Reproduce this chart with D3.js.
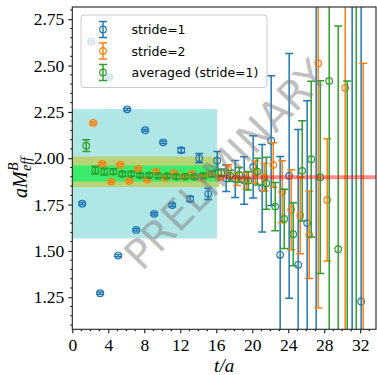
<!DOCTYPE html>
<html><head><meta charset="utf-8">
<script src="https://cdn.jsdelivr.net/npm/d3@7"></script>
<style>body{margin:0;background:#fff}svg{display:block}</style>
</head><body><svg id="c" width="377" height="375"></svg>
<script>
// ---- data ----
const blueT   = [1,2,3,4,5,6,7,8,9,10,11,12,13,14,15,16,17,18,19,20,21,22,23,24,25,26,27,31,32];
const blueV   = [1.755,2.63,1.272,2.437,1.475,2.264,1.613,2.151,1.700,2.086,1.747,2.043,1.780,2.000,1.808,1.987,1.892,1.888,1.880,1.953,1.838,2.095,1.479,1.905,1.425,1.650,0.9,3.0,1.227];
const blueE   = [0.006,0.006,0.006,0.006,0.006,0.006,0.006,0.006,0.006,0.007,0.008,0.012,0.013,0.025,0.03,0.05,0.072,0.10,0.128,0.168,0.236,0.35,0.53,0.66,0.73,0.66,2.0,2.2,1.7];

const orangeT = [2,3,4,5,6,7,8,9,10,11,12,13,14,15,16,17,18,19,20,21,22,23,24,25,26,27,28,30,32];
const orangeV = [2.19,1.969,1.874,1.964,1.878,1.942,1.885,1.928,1.894,1.919,1.901,1.914,1.895,1.913,1.897,1.940,1.888,1.878,1.925,1.898,1.964,1.819,1.722,1.692,1.587,2.512,1.775,2.38,0.95];
const orangeE = [0.006,0.006,0.006,0.006,0.006,0.006,0.006,0.006,0.006,0.006,0.006,0.01,0.01,0.01,0.012,0.025,0.035,0.045,0.06,0.075,0.12,0.167,0.216,0.207,0.236,1.32,0.33,1.4,1.563];

const greenT  = [1,2,3,4,5,6,7,8,9,10,11,12,13,14,15,16,17,18,19,20,21,22,23,24,25,26,27,28,29,30,31];
const greenV  = [2.068,1.935,1.928,1.928,1.915,1.915,1.908,1.908,1.905,1.905,1.901,1.901,1.900,1.905,1.915,1.922,1.905,1.910,1.878,1.928,1.865,1.739,1.673,1.590,1.932,1.995,1.898,2.417,1.509,1.0,3.0];
const greenE  = [0.032,0.02,0.018,0.015,0.012,0.012,0.01,0.01,0.01,0.01,0.01,0.01,0.01,0.012,0.015,0.02,0.03,0.04,0.05,0.072,0.14,0.13,0.16,0.17,0.27,0.42,0.52,1.5,1.205,1.417,2.2];

const seriesNames = ["stride=1","stride=2","averaged (stride=1)"];
const seriesColors = ["#1f77b4","#ff7f0e","#2ca02c"];
const seriesShift = [0.1,0.33,0.55];

const fitBox   = {t0:0, t1:16.1, lo:1.567, hi:2.265};
const bandOuter = {t0:0, t1:16.3, lo:1.845, hi:2.009};
const bandInner = {t0:0, t1:16.3, lo:1.874, hi:1.961};
const refLine  = {t0:16.1, t1:33.75, v:1.898};

const xTicks = [0,4,8,12,16,20,24,28,32];
const yTicks = [1.25,1.50,1.75,2.00,2.25,2.50,2.75];

// ---- layout ----
const svg = d3.select("#c");
const L=72.3, R=376, T=7, B=329.3;
const x = d3.scaleLinear().domain([0,33.75]).range([L,R]);
const y = d3.scaleLinear().domain([1.077,2.816]).range([B,T]);

svg.append("defs").append("clipPath").attr("id","clip")
  .append("rect").attr("x",L).attr("y",T).attr("width",R-L).attr("height",B-T);
const plot = svg.append("g").attr("clip-path","url(#clip)");

plot.append("rect").attr("x",x(fitBox.t0)).attr("width",x(fitBox.t1)-x(fitBox.t0))
  .attr("y",y(fitBox.hi)).attr("height",y(fitBox.lo)-y(fitBox.hi)).attr("fill","#b0e6e6");
plot.append("rect").attr("x",x(bandOuter.t0)).attr("width",x(bandOuter.t1)-x(bandOuter.t0))
  .attr("y",y(bandOuter.hi)).attr("height",y(bandOuter.lo)-y(bandOuter.hi)).attr("fill","#b8d476");
plot.append("rect").attr("x",x(bandInner.t0)).attr("width",x(bandInner.t1)-x(bandInner.t0))
  .attr("y",y(bandInner.hi)).attr("height",y(bandInner.lo)-y(bandInner.hi)).attr("fill","#3ceb6c");

const allT=[blueT,orangeT,greenT], allV=[blueV,orangeV,greenV], allE=[blueE,orangeE,greenE];
const cap=4, rad=3.3;
allT.forEach((ts,si)=>{
  const col=seriesColors[si];
  const data=ts.map((t,i)=>({t:t+seriesShift[si], v:allV[si][i], e:allE[si][i]}));
  const g=plot.append("g");
  g.selectAll("line.bar").data(data).join("line").attr("class","bar")
    .attr("x1",d=>x(d.t)).attr("x2",d=>x(d.t))
    .attr("y1",d=>y(d.v-d.e)).attr("y2",d=>y(d.v+d.e))
    .attr("stroke",col).attr("stroke-width",1.5);
  ["lo","hi"].forEach(k=>{
    g.selectAll("line.c"+k).data(data).join("line").attr("class","c"+k)
      .attr("x1",d=>x(d.t)-cap).attr("x2",d=>x(d.t)+cap)
      .attr("y1",d=>y(k==="lo"?d.v-d.e:d.v+d.e)).attr("y2",d=>y(k==="lo"?d.v-d.e:d.v+d.e))
      .attr("stroke",col).attr("stroke-width",1.5);
  });
  g.selectAll("circle").data(data).join("circle")
    .attr("cx",d=>x(d.t)).attr("cy",d=>y(d.v)).attr("r",rad)
    .attr("fill","none").attr("stroke",col).attr("stroke-width",1.2);
});

plot.append("line").attr("x1",x(refLine.t0)).attr("x2",x(refLine.t1))
  .attr("y1",y(refLine.v)).attr("y2",y(refLine.v))
  .attr("stroke","#ff0000").attr("stroke-opacity",0.45).attr("stroke-width",4);

// watermark
svg.append("text").attr("transform",`translate(226,165) rotate(-46)`)
  .attr("text-anchor","middle").attr("dominant-baseline","central")
  .attr("font-family","DejaVu Sans").attr("font-size",41)
  .attr("fill","#808080").attr("fill-opacity",0.5).text("PRELIMINARY");

// axes
const serif="Liberation Serif";
const ax = svg.append("g").attr("transform",`translate(0,${B})`)
  .call(d3.axisBottom(x).tickValues(xTicks).tickFormat(d3.format("d")).tickSize(4).tickPadding(5));
const ay = svg.append("g").attr("transform",`translate(${L},0)`)
  .call(d3.axisLeft(y).tickValues(yTicks).tickFormat(d3.format(".2f")).tickSize(4).tickPadding(4));
[ax,ay].forEach(a=>{
  a.select(".domain").remove();
  a.selectAll("text").attr("font-family",serif).attr("font-size",17.5).attr("fill","#000");
  a.selectAll("line").attr("stroke","#000").attr("stroke-width",1);
});
const xMinor=d3.range(0,34,1).filter(v=>v%4!==0);
svg.append("g").selectAll("line").data(xMinor).join("line")
  .attr("x1",d=>x(d)).attr("x2",d=>x(d)).attr("y1",B).attr("y2",B+2).attr("stroke","#000");
const yMinor=d3.range(22,57).map(k=>k*0.05).filter(v=>Math.abs(v*4-Math.round(v*4))>1e-6);
svg.append("g").selectAll("line").data(yMinor).join("line")
  .attr("x1",L-2).attr("x2",L).attr("y1",d=>y(d)).attr("y2",d=>y(d)).attr("stroke","#000");
svg.append("rect").attr("x",L).attr("y",T).attr("width",R-L).attr("height",B-T)
  .attr("fill","none").attr("stroke","#222").attr("stroke-width",1.1);

// axis labels
svg.append("text").attr("x",(L+R)/2).attr("y",372).attr("text-anchor","middle")
  .attr("font-family",serif).attr("font-style","italic").attr("font-size",19).text("t/a");
const yl = svg.append("g").attr("transform","translate(27,172) rotate(-90)")
  .attr("font-family",serif).attr("font-style","italic");
yl.append("text").attr("x",-26).attr("y",0).attr("font-size",20).text("aM");
yl.append("text").attr("x",1).attr("y",-9).attr("font-size",14).text("B");
yl.append("text").attr("x",1).attr("y",4).attr("font-size",14).text("eff");

// legend
const lg = svg.append("g");
lg.append("rect").attr("x",81).attr("y",15).attr("width",186).attr("height",72.5)
  .attr("rx",3).attr("fill","#fff").attr("fill-opacity",0.8).attr("stroke","#cccccc");
const rows=[29.5,51,72.5];
seriesNames.forEach((nm,i)=>{
  const cy=rows[i], cx=103, col=seriesColors[i];
  lg.append("line").attr("x1",cx).attr("x2",cx).attr("y1",cy-8).attr("y2",cy+8).attr("stroke",col).attr("stroke-width",1.5);
  [cy-8,cy+8].forEach(yy=>lg.append("line").attr("x1",cx-cap).attr("x2",cx+cap).attr("y1",yy).attr("y2",yy).attr("stroke",col).attr("stroke-width",1.5));
  lg.append("circle").attr("cx",cx).attr("cy",cy).attr("r",rad).attr("fill","none").attr("stroke",col).attr("stroke-width",1.2);
  lg.append("text").attr("x",131.5).attr("y",cy+4.5).attr("font-family","DejaVu Sans").attr("font-size",12.5).text(nm);
});
</script></body></html>
